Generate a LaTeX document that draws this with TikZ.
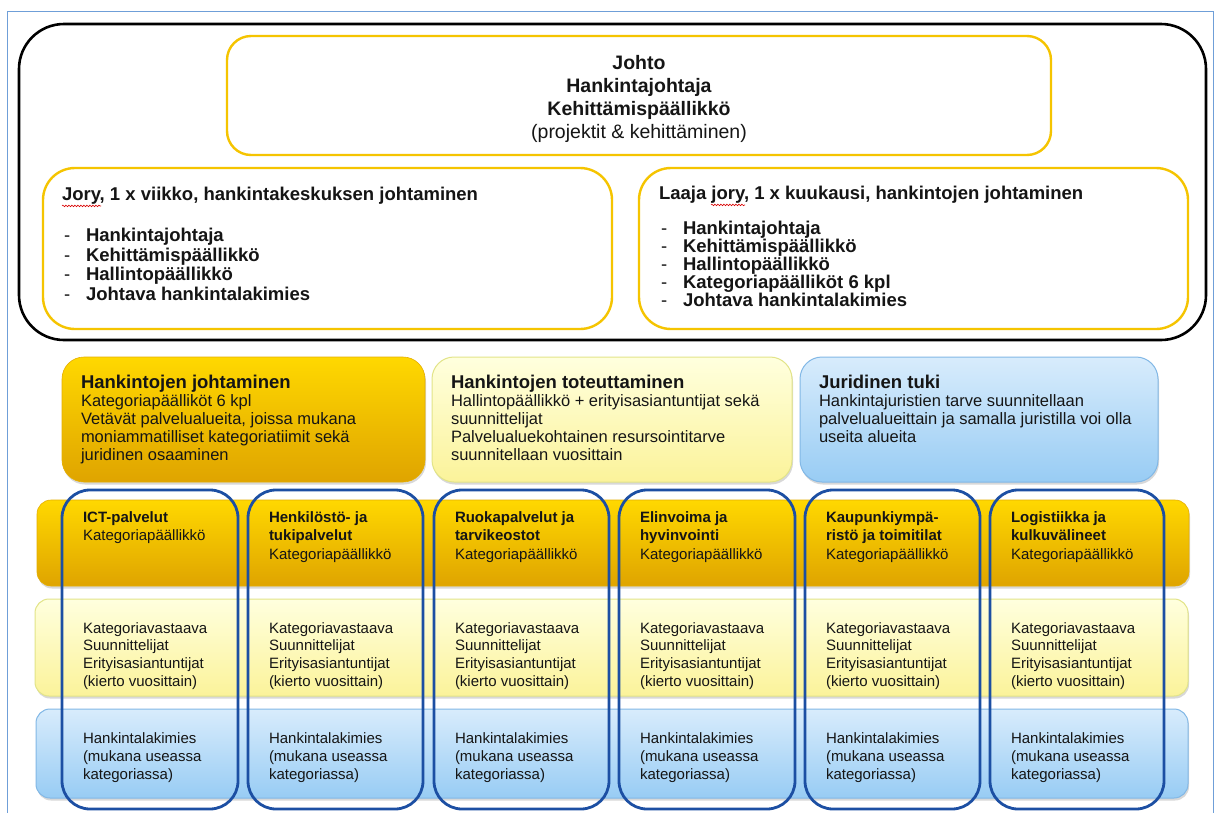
\documentclass[tikz,border=0pt]{standalone}
\usepackage{fontspec}
\setmainfont{Liberation Sans}
\usetikzlibrary{shadows,decorations.pathmorphing}

\definecolor{frameblue}{HTML}{6F9FD8}
\definecolor{johtoyel}{HTML}{F5C400}
\definecolor{colblue}{HTML}{1C4FA3}
\definecolor{goldtop}{HTML}{FFD800}
\definecolor{goldbot}{HTML}{DFA400}
\definecolor{paletop}{HTML}{FFFFDE}
\definecolor{palebot}{HTML}{FBF39A}
\definecolor{paleedge}{HTML}{E2E488}
\definecolor{bluetop}{HTML}{D8ECFC}
\definecolor{bluebot}{HTML}{98CCF4}
\definecolor{blueedge}{HTML}{82B8E6}
\definecolor{txt}{HTML}{151515}

\newcommand\mybox[6]{\node[#2, minimum width={(#5-#3)*1pt}, minimum height={(#6-#4)*1pt}] (#1) at ({(#3+#5)/2},{(#4+#6)/2}) {};}
\newcommand\dsh{\makebox[22pt][l]{\mdseries -}}

\begin{document}
\begin{tikzpicture}[x=1pt,y=-1pt,
  bx/.style={rectangle, inner sep=0pt, outer sep=0pt},
  framebox/.style={bx, draw=frameblue, line width=1pt},
  blackbox/.style={bx, draw=black, line width=2.6pt, rounded corners=45pt},
  yelbox/.style={bx, draw=johtoyel, line width=2.4pt, rounded corners=30pt, fill=white},
  shad/.style={drop shadow={shadow xshift=1pt, shadow yshift=-2.5pt, opacity=0.25, fill=black!60}},
  goldbox/.style={bx, shad, top color=goldtop, bottom color=goldbot, draw=goldbot!80!goldtop, line width=0.6pt},
  palebox/.style={bx, shad, top color=paletop, bottom color=palebot, draw=paleedge, line width=1pt},
  bluebox/.style={bx, shad, top color=bluetop, bottom color=bluebot, draw=blueedge, line width=1pt},
  colbox/.style={bx, draw=colblue, line width=2.8pt, rounded corners=28pt},
  tx/.style={anchor=north west, inner sep=0pt, outer sep=0pt, align=left, text=txt},
  wavy/.style={draw=red!85!black, line width=0.6pt, decorate, decoration={snake, amplitude=0.8pt, segment length=3pt}}
]
\useasboundingbox (0,0) rectangle (1219,812);
\fill[white] (0,0) rectangle (1219,812);

% frame and top group
\mybox{frame}{framebox}{7}{11}{1213}{830}
\mybox{top}{blackbox}{19}{24}{1206}{340}
\mybox{johto}{yelbox, rounded corners=24pt}{227}{36}{1051}{155}
\mybox{jory}{yelbox, rounded corners=32pt}{43}{168}{612}{329}
\mybox{laaja}{yelbox, rounded corners=32pt}{639}{168}{1188}{329}

% middle row
\mybox{mgold}{goldbox, rounded corners=22pt}{62}{357}{425}{482}
\mybox{mpale}{palebox, rounded corners=22pt}{432}{357}{792}{482}
\mybox{mblue}{bluebox, rounded corners=22pt}{800}{357}{1158}{482}

% bands
\mybox{bgold}{goldbox, rounded corners=14pt}{37}{500}{1189}{586}
\mybox{bpale}{palebox, rounded corners=14pt}{35}{599}{1188}{696}
\mybox{bblue}{bluebox, rounded corners=14pt}{36}{709}{1188}{798}

% columns
\mybox{c1}{colbox}{62}{490}{238}{809}
\mybox{c2}{colbox}{248}{490}{423}{809}
\mybox{c3}{colbox}{434}{490}{609}{809}
\mybox{c4}{colbox}{619}{490}{795}{809}
\mybox{c5}{colbox}{805}{490}{980}{809}
\mybox{c6}{colbox}{990}{490}{1164}{809}

% Johto text
\node[anchor=north, inner sep=0pt, align=center, text=txt,
      font=\fontsize{19.5}{23}\selectfont] (johtotxt) at (639,55.5)
  {\textbf{Johto}\\ \textbf{Hankintajohtaja}\\ \textbf{Kehittämispäällikkö}\\ (projektit \& kehittäminen)};

% Jory
\node[tx, font=\fontsize{18.5}{20}\selectfont\bfseries] (joryh) at (62,187.2)
  {Jory, 1 x viikko, hankintakeskuksen johtaminen};
\node[tx, font=\fontsize{18.5}{19.5}\selectfont\bfseries] (joryitems) at (64,228.5)
  {\dsh Hankintajohtaja\\ \dsh Kehittämispäällikkö\\ \dsh Hallintopäällikkö\\ \dsh Johtava hankintalakimies};
\draw[wavy] ([yshift=-1.5pt]joryh.south west) -- ++(39,0);

% Laaja jory
\node[tx, font=\fontsize{18.5}{20}\selectfont\bfseries] (laajah) at (659,186.2)
  {Laaja jory, 1 x kuukausi, hankintojen johtaminen};
\node[tx, font=\fontsize{18.5}{18}\selectfont\bfseries] (laajaitems) at (661,221.2)
  {\dsh Hankintajohtaja\\ \dsh Kehittämispäällikkö\\ \dsh Hallintopäällikkö\\ \dsh Kategoriapäälliköt 6 kpl\\ \dsh Johtava hankintalakimies};
\draw[wavy] ([xshift=52pt,yshift=-1.5pt]laajah.south west) -- ++(34,0);

% middle texts
\node[tx, font=\fontsize{18.5}{20}\selectfont\bfseries] (mgoldt) at (81,375) {Hankintojen johtaminen};
\node[tx, font=\fontsize{16.5}{18}\selectfont] (mgoldb) at (81,395)
  {Kategoriapäälliköt 6 kpl\\ Vetävät palvelualueita, joissa mukana\\ moniammatilliset kategoriatiimit sekä\\ juridinen osaaminen};
\node[tx, font=\fontsize{18.5}{20}\selectfont\bfseries] (mpalet) at (451,375) {Hankintojen toteuttaminen};
\node[tx, font=\fontsize{16.5}{18}\selectfont] (mpaleb) at (451,395)
  {Hallintopäällikkö + erityisasiantuntijat sekä\\ suunnittelijat\\ Palvelualuekohtainen resursointitarve\\ suunnitellaan vuosittain};
\node[tx, font=\fontsize{18.5}{20}\selectfont\bfseries] (mbluet) at (819,375) {Juridinen tuki};
\node[tx, font=\fontsize{16.5}{18}\selectfont] (mblueb) at (819,395)
  {Hankintajuristien tarve suunnitellaan\\ palvelualueittain ja samalla juristilla voi olla\\ useita alueita};

% column texts
\tikzset{ctitle/.style={tx, font=\fontsize{15}{18.5}\selectfont},
         cmid/.style={tx, font=\fontsize{15}{17.6}\selectfont},
         clow/.style={tx, font=\fontsize{15}{18}\selectfont}}
\node[ctitle] (t1) at (83,511.4) {\textbf{ICT-palvelut}\\ Kategoriapäällikkö};
\node[ctitle] (t2) at (269,511.4) {\textbf{Henkilöstö- ja}\\ \textbf{tukipalvelut}\\ Kategoriapäällikkö};
\node[ctitle] (t3) at (455,511.4) {\textbf{Ruokapalvelut ja}\\ \textbf{tarvikeostot}\\ Kategoriapäällikkö};
\node[ctitle] (t4) at (640,511.4) {\textbf{Elinvoima ja}\\ \textbf{hyvinvointi}\\ Kategoriapäällikkö};
\node[ctitle] (t5) at (826,511.4) {\textbf{Kaupunkiympä-}\\ \textbf{ristö ja toimitilat}\\ Kategoriapäällikkö};
\node[ctitle] (t6) at (1011,511.4) {\textbf{Logistiikka ja}\\ \textbf{kulkuvälineet}\\ Kategoriapäällikkö};

\foreach \i/\x in {1/83, 2/269, 3/455, 4/640, 5/826, 6/1011}{
  \node[cmid] (m\i) at (\x,622.4) {Kategoriavastaava\\ Suunnittelijat\\ Erityisasiantuntijat\\ (kierto vuosittain)};
  \node[clow] (l\i) at (\x,732.4) {Hankintalakimies\\ (mukana useassa\\ kategoriassa)};
}
\end{tikzpicture}
\end{document}
